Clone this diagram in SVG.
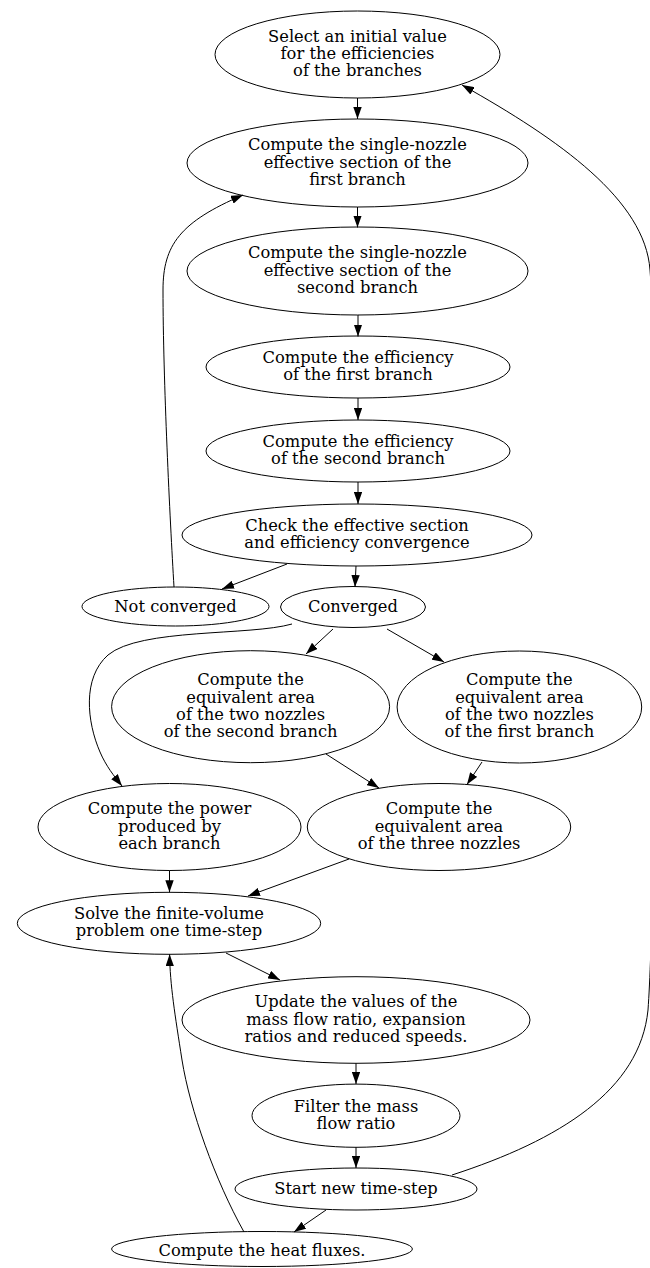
<svg xmlns="http://www.w3.org/2000/svg" width="650" height="1268" viewBox="0 0 650 1268">
<defs>
<marker id="arr" markerUnits="userSpaceOnUse" markerWidth="12" markerHeight="8.4" refX="12" refY="4.2" orient="auto">
<path d="M0,0 L12,4.2 L0,8.4 z" fill="#000"/>
</marker>
<style>
.n ellipse{fill:none;stroke:#000;stroke-width:1}
.n text{font-family:"DejaVu Serif","Liberation Serif",serif;font-size:16.3px;text-anchor:middle;fill:#000}
.e path{fill:none;stroke:#000;stroke-width:1;marker-end:url(#arr)}
</style>
</defs>
<rect width="650" height="1268" fill="#fff"/>
<g class="e" id="edges">
<path d="M357.5,98 L357.5,119"/>
<path d="M357.5,207 L357.5,227.5"/>
<path d="M358,315 L358,336.5"/>
<path d="M358,398 L358,420"/>
<path d="M358,482 L358,504"/>
<path d="M287,564 L222,589"/>
<path d="M356,566 L355,587"/>
<path d="M174,587 C170,520 163,380 163,290 C163,245 180,222 243,195"/>
<path d="M333,629 L306,654"/>
<path d="M387,629 L444,662"/>
<path d="M292,624 C250,636 140,628 108,655 C82,678 87,722 100,752 C106,766 114,776 122,786"/>
<path d="M326,754 L379,788"/>
<path d="M482,762 L467,784.5"/>
<path d="M169.5,870.5 L169.5,892.3"/>
<path d="M349,859 L248,896"/>
<path d="M226,953 L280,980"/>
<path d="M356,1063.3 L356,1084"/>
<path d="M356,1147.3 L356,1168"/>
<path d="M326,1210 L294,1232"/>
<path d="M244,1232 C215,1180 190,1110 182,1060 C175,1015 170,985 169.6,954.3"/>
<path d="M452,1175 C560,1140 640,1090 648,1010 C656,900 660,400 650,270 C645,200 560,140 462,85"/>
</g>
<g class="n" id="n1"><ellipse cx="357.5" cy="54.5" rx="142.5" ry="43.5"/>
<text x="357.5" y="41.8">Select an initial value</text><text x="357.5" y="59">for the efficiencies</text><text x="357.5" y="76.2">of the branches</text></g>
<g class="n" id="n2"><ellipse cx="357.5" cy="163" rx="170.5" ry="44"/>
<text x="357.5" y="150.3">Compute the single-nozzle</text><text x="357.5" y="167.5">effective section of the</text><text x="357.5" y="184.7">first branch</text></g>
<g class="n" id="n3"><ellipse cx="357.5" cy="271" rx="170.5" ry="44"/>
<text x="357.5" y="258.3">Compute the single-nozzle</text><text x="357.5" y="275.5">effective section of the</text><text x="357.5" y="292.7">second branch</text></g>
<g class="n" id="n4"><ellipse cx="358" cy="367" rx="152" ry="31"/>
<text x="358" y="362.9">Compute the efficiency</text><text x="358" y="380.1">of the first branch</text></g>
<g class="n" id="n5"><ellipse cx="358" cy="451" rx="152" ry="31"/>
<text x="358" y="446.9">Compute the efficiency</text><text x="358" y="464.1">of the second branch</text></g>
<g class="n" id="n6"><ellipse cx="357" cy="535" rx="175" ry="31"/>
<text x="357" y="530.9">Check the effective section</text><text x="357" y="548.1">and efficiency convergence</text></g>
<g class="n" id="n7"><ellipse cx="175.5" cy="606.5" rx="93.5" ry="19.5"/>
<text x="175.5" y="612">Not converged</text></g>
<g class="n" id="n8"><ellipse cx="353" cy="607" rx="72.5" ry="20.5"/>
<text x="353" y="612">Converged</text></g>
<g class="n" id="n9"><ellipse cx="250.6" cy="706.7" rx="139" ry="56"/>
<text x="250.6" y="685.4">Compute the</text><text x="250.6" y="702.6">equivalent area</text><text x="250.6" y="719.8">of the two nozzles</text><text x="250.6" y="737">of the second branch</text></g>
<g class="n" id="n10"><ellipse cx="519.4" cy="707" rx="122.3" ry="56"/>
<text x="519.4" y="685.4">Compute the</text><text x="519.4" y="702.6">equivalent area</text><text x="519.4" y="719.8">of the two nozzles</text><text x="519.4" y="737">of the first branch</text></g>
<g class="n" id="n11"><ellipse cx="169.5" cy="827" rx="131.5" ry="43.5"/>
<text x="169.5" y="814.3">Compute the power</text><text x="169.5" y="831.5">produced by</text><text x="169.5" y="848.7">each branch</text></g>
<g class="n" id="n12"><ellipse cx="439" cy="827" rx="131.7" ry="43.5"/>
<text x="439" y="814.3">Compute the</text><text x="439" y="831.5">equivalent area</text><text x="439" y="848.7">of the three nozzles</text></g>
<g class="n" id="n13"><ellipse cx="169" cy="923.3" rx="151.7" ry="31"/>
<text x="169" y="919.2">Solve the finite-volume</text><text x="169" y="936.4">problem one time-step</text></g>
<g class="n" id="n14"><ellipse cx="356" cy="1020" rx="174" ry="43.3"/>
<text x="356" y="1007.3">Update the values of the</text><text x="356" y="1024.5">mass flow ratio, expansion</text><text x="356" y="1041.7">ratios and reduced speeds.</text></g>
<g class="n" id="n15"><ellipse cx="356" cy="1115.7" rx="104" ry="31.6"/>
<text x="356" y="1111.6">Filter the mass</text><text x="356" y="1128.8">flow ratio</text></g>
<g class="n" id="n16"><ellipse cx="356" cy="1189" rx="121" ry="21"/>
<text x="356" y="1193.7">Start new time-step</text></g>
<g class="n" id="n17"><ellipse cx="262" cy="1249" rx="150.4" ry="17.5"/>
<text x="262" y="1255.5">Compute the heat fluxes.</text></g>
</svg>
